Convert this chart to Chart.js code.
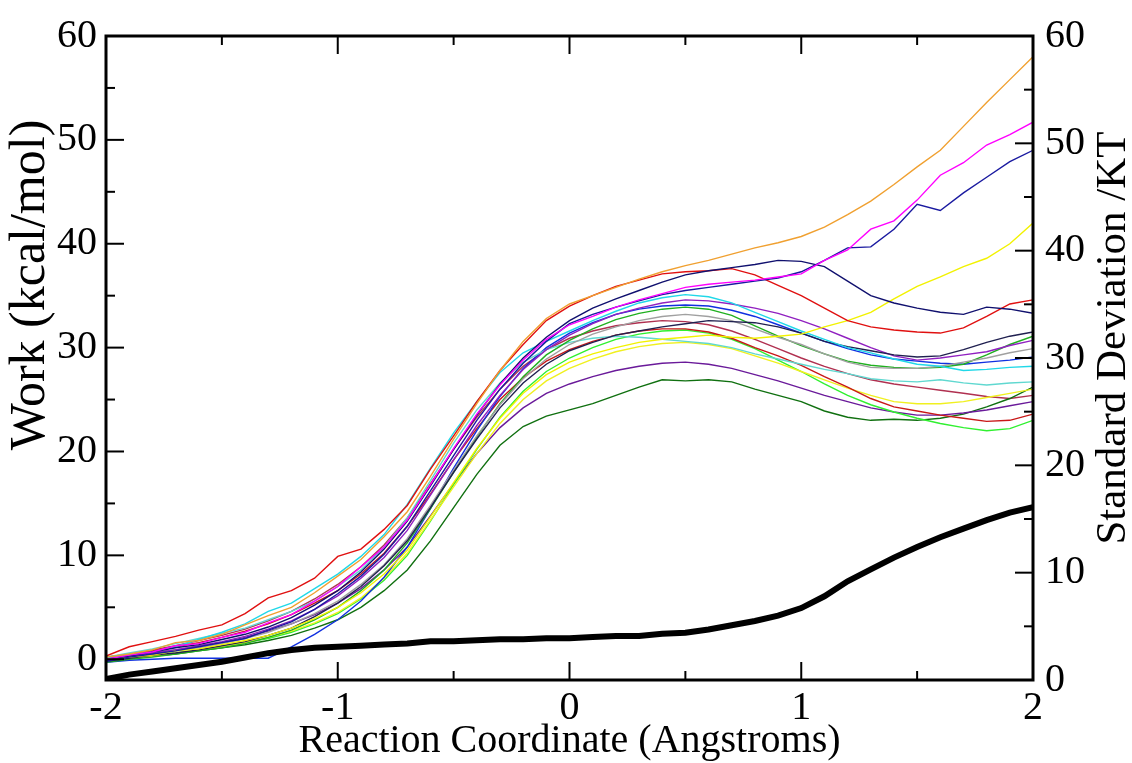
<!DOCTYPE html>
<html lang="en">
<head>
<meta charset="UTF-8">
<title>Work vs Reaction Coordinate</title>
<style>
    body { margin: 0; background: #fff; }
    #chart { display: block; }
</style>
<script src="https://cdn.jsdelivr.net/npm/chart.js"></script>
</head>
<body>
<canvas id="chart" width="1132" height="763"></canvas>
<script>
    // Reaction coordinate (Angstroms)
    const xs = [-2.0, -1.9, -1.8, -1.7, -1.6, -1.5, -1.4, -1.3, -1.2, -1.1, -1.0, -0.9, -0.8, -0.7, -0.6, -0.5, -0.4, -0.3, -0.2, -0.1,
        0.0, 0.1, 0.2, 0.3, 0.4, 0.5, 0.6, 0.7, 0.8, 0.9, 1.0, 1.1, 1.2, 1.3, 1.4, 1.5, 1.6, 1.7, 1.8, 1.9, 2.0];

    // Work curves (kcal/mol), left axis
    const workOrange = [0.2, 0.5, 0.9, 1.6, 1.8, 2.4, 3.3, 4.2, 5.0, 6.4, 8.0, 9.6, 11.8, 14.2, 17.6, 21.2, 24.6, 27.8, 30.6, 32.8, 34.2, 35.0, 35.8, 36.6, 37.3, 37.9, 38.4, 39.0, 39.6, 40.1, 40.7, 41.6, 42.8, 44.1, 45.7, 47.4, 49.0, 51.3, 53.6, 55.8, 58.0];
    const workMagenta = [0.0, 0.4, 0.7, 1.3, 1.5, 2.1, 2.6, 3.5, 4.3, 5.6, 7.0, 8.9, 10.8, 13.4, 16.8, 20.3, 23.6, 26.4, 28.8, 30.8, 32.2, 33.0, 33.9, 34.6, 35.2, 35.8, 36.1, 36.3, 36.5, 36.8, 37.1, 38.4, 39.4, 41.4, 42.2, 44.2, 46.6, 47.8, 49.5, 50.5, 51.7];
    const workBlueDark = [-0.2, 0.2, 0.5, 0.8, 1.2, 1.6, 2.0, 2.8, 3.6, 4.8, 6.3, 8.0, 10.1, 12.8, 16.2, 19.6, 23.0, 26.0, 28.5, 30.6, 32.3, 33.2, 33.9, 34.5, 35.1, 35.5, 35.8, 36.1, 36.4, 36.7, 37.3, 38.4, 39.6, 39.7, 41.4, 43.8, 43.2, 44.9, 46.4, 47.9, 49.0];
    const workNavy = [0.0, 0.3, 0.7, 1.1, 1.4, 1.9, 2.4, 3.1, 4.0, 5.2, 6.6, 8.4, 10.6, 13.3, 16.7, 20.2, 23.5, 26.5, 29.0, 31.0, 32.6, 33.8, 34.7, 35.5, 36.3, 37.0, 37.4, 37.7, 38.0, 38.4, 38.3, 37.8, 36.4, 35.0, 34.3, 33.8, 33.4, 33.2, 33.9, 33.7, 33.3];
    const workRed = [0.3, 1.2, 1.7, 2.2, 2.8, 3.3, 4.4, 5.9, 6.6, 7.8, 9.9, 10.6, 12.5, 14.8, 18.3, 21.5, 24.8, 27.8, 30.3, 32.6, 34.0, 35.0, 35.9, 36.5, 37.1, 37.3, 37.4, 37.6, 37.0, 36.0, 35.0, 33.8, 32.6, 32.0, 31.7, 31.5, 31.4, 31.9, 33.0, 34.2, 34.6];
    const workYellowUp = [0.0, 0.2, 0.4, 0.8, 1.0, 1.4, 1.8, 2.3, 3.0, 3.9, 5.0, 6.4, 8.2, 10.5, 13.7, 17.0, 20.3, 23.2, 25.6, 27.4, 28.6, 29.4, 30.0, 30.5, 30.8, 31.0, 31.2, 31.0, 30.9, 31.1, 31.3, 32.0, 32.6, 33.4, 34.7, 35.9, 36.8, 37.8, 38.6, 40.0, 42.0];
    const workCyan = [0.1, 0.4, 0.7, 1.2, 1.9, 2.6, 3.4, 4.6, 5.4, 6.8, 8.2, 9.9, 12.0, 14.9, 18.4, 21.8, 24.8, 27.6, 29.5, 30.6, 31.6, 32.6, 33.5, 34.3, 34.8, 35.1, 34.9, 34.3, 33.4, 32.5, 31.6, 30.8, 30.0, 29.5, 28.9, 28.4, 28.2, 27.8, 27.9, 28.1, 28.2];
    const workIndigo = [-0.2, 0.1, 0.4, 0.6, 0.9, 1.3, 1.7, 2.3, 3.0, 4.1, 5.4, 7.0, 9.0, 11.4, 14.6, 18.0, 21.2, 24.2, 26.6, 28.4, 29.7, 30.5, 31.2, 31.6, 32.0, 32.3, 32.6, 32.5, 32.4, 32.0, 31.4, 30.6, 30.1, 29.7, 29.3, 29.1, 29.2, 29.8, 30.5, 31.1, 31.5];
    const workViolet = [0.0, 0.3, 0.6, 0.9, 1.3, 1.7, 2.2, 2.9, 3.7, 4.8, 6.1, 7.8, 9.8, 12.4, 15.8, 19.2, 22.5, 25.4, 27.9, 29.8, 31.2, 32.3, 33.2, 33.8, 34.3, 34.6, 34.5, 34.2, 33.8, 33.3, 32.6, 31.8, 30.9, 30.0, 29.2, 28.8, 29.0, 29.3, 29.6, 30.2, 30.7];
    const workGrey = [0.1, 0.3, 0.5, 0.8, 1.1, 1.5, 2.0, 2.6, 3.4, 4.4, 5.6, 7.2, 9.1, 11.6, 14.8, 18.2, 21.5, 24.5, 27.0, 28.9, 30.3, 31.3, 32.0, 32.6, 33.0, 33.2, 33.0, 32.6, 31.8, 31.0, 30.3, 29.4, 28.6, 28.1, 28.0, 28.0, 28.2, 28.6, 29.0, 29.5, 29.9];
    const workGreen = [-0.3, 0.0, 0.2, 0.5, 0.8, 1.1, 1.5, 2.1, 2.8, 3.8, 5.0, 6.6, 8.6, 11.2, 14.5, 18.0, 21.4, 24.6, 27.2, 29.3, 30.7, 31.8, 32.7, 33.3, 33.7, 33.9, 33.7, 33.1, 32.1, 31.1, 30.2, 29.4, 28.7, 28.3, 28.1, 28.0, 28.1, 28.4, 29.3, 30.3, 31.1];
    const workTurquoise = [0.2, 0.6, 1.0, 1.5, 2.0, 2.5, 3.0, 3.8, 4.6, 5.6, 7.0, 8.6, 10.8, 13.6, 17.2, 20.8, 24.0, 26.6, 28.6, 29.8, 30.5, 30.9, 31.1, 31.0, 30.8, 30.6, 30.4, 30.0, 29.4, 28.9, 28.4, 27.9, 27.5, 27.0, 26.8, 26.7, 26.9, 26.6, 26.4, 26.6, 26.7];
    const workBlue = [-0.3, -0.1, 0.0, 0.1, 0.1, 0.1, 0.1, 0.1, 1.2, 2.4, 3.8, 5.6, 7.9, 10.8, 14.5, 18.4, 22.0, 25.3, 28.0, 30.0, 31.4, 32.4, 33.2, 33.7, 34.0, 34.1, 34.0, 33.6, 33.0, 32.2, 31.4, 30.6, 29.9, 29.3, 28.9, 28.7, 28.5, 28.4, 28.6, 28.8, 29.1];
    const workRedLow = [0.2, 0.4, 0.8, 1.2, 1.6, 2.1, 2.7, 3.4, 4.3, 5.4, 6.6, 8.2, 10.2, 12.8, 15.9, 19.2, 22.2, 25.0, 27.1, 28.7, 29.8, 30.6, 31.2, 31.6, 31.8, 31.8, 31.5, 30.9, 30.0, 29.2, 28.3, 27.2, 26.2, 25.1, 24.3, 23.9, 23.5, 23.2, 22.9, 23.0, 23.6];
    const workYellowLow = [-0.2, 0.1, 0.3, 0.6, 0.9, 1.2, 1.6, 2.1, 2.7, 3.5, 4.5, 5.9, 7.8, 10.2, 13.4, 16.6, 19.8, 22.7, 25.0, 26.8, 28.0, 28.9, 29.6, 30.1, 30.4, 30.5, 30.3, 29.9, 29.2, 28.5, 27.7, 26.9, 26.1, 25.4, 24.8, 24.6, 24.6, 24.8, 25.2, 25.6, 26.0];
    const workLime = [0.0, 0.2, 0.4, 0.6, 0.9, 1.2, 1.6, 2.0, 2.6, 3.4, 4.4, 5.8, 7.6, 10.0, 13.3, 16.8, 20.2, 23.3, 25.8, 27.7, 29.0, 30.0, 30.8, 31.3, 31.6, 31.7, 31.4, 30.8, 29.9, 28.8, 27.7, 26.5, 25.4, 24.5, 23.8, 23.2, 22.7, 22.3, 22.0, 22.2, 23.0];
    const workPurple = [0.1, 0.3, 0.6, 0.9, 1.2, 1.6, 2.1, 2.7, 3.4, 4.3, 5.4, 6.8, 8.6, 10.8, 13.8, 16.9, 19.8, 22.3, 24.2, 25.6, 26.5, 27.2, 27.8, 28.2, 28.5, 28.6, 28.4, 28.0, 27.4, 26.8, 26.1, 25.4, 24.8, 24.2, 23.8, 23.5, 23.5, 23.7, 24.0, 24.4, 24.8];
    const workGreen4 = [-0.1, 0.1, 0.3, 0.5, 0.8, 1.1, 1.4, 1.8, 2.3, 3.0, 3.8, 5.0, 6.6, 8.6, 11.4, 14.6, 17.8, 20.6, 22.4, 23.4, 24.0, 24.6, 25.4, 26.2, 26.9, 26.8, 26.9, 26.7, 26.0, 25.4, 24.8, 23.9, 23.3, 23.0, 23.1, 23.0, 23.2, 23.6, 24.3, 25.1, 26.2];
    const workMaroon = [0.2, 0.5, 0.9, 1.3, 1.8, 2.3, 2.9, 3.7, 4.6, 5.8, 7.2, 8.9, 11.0, 13.6, 16.9, 20.2, 23.3, 26.0, 28.2, 29.8, 30.9, 31.6, 32.1, 32.4, 32.6, 32.5, 32.2, 31.6, 30.8, 29.9, 29.0, 28.2, 27.5, 26.9, 26.5, 26.2, 25.9, 25.6, 25.3, 25.1, 25.4];

    // Standard deviation /KT, right axis
    const stdDev = [0.1, 0.5, 0.8, 1.1, 1.4, 1.7, 2.1, 2.5, 2.8, 3.0, 3.1, 3.2, 3.3, 3.4, 3.6, 3.6, 3.7, 3.8, 3.8, 3.9, 3.9, 4.0, 4.1, 4.1, 4.3, 4.4, 4.7, 5.1, 5.5, 6.0, 6.7, 7.8, 9.2, 10.3, 11.4, 12.4, 13.3, 14.1, 14.9, 15.6, 16.1];

    // Tick positions for the inward tick marks
    const xMajor = [-2, -1, 0, 1, 2];
    const xMinor = [-1.5, -0.5, 0.5, 1.5];
    const yMajor = [0, 10, 20, 30, 40, 50, 60];
    const yMinor = [5, 15, 25, 35, 45, 55];

    const workSeries = [
        [workOrange, '#f0a030'],
        [workMagenta, '#ff00ff'],
        [workBlueDark, '#1a1aa0'],
        [workNavy, '#10106e'],
        [workRed, '#e01010'],
        [workYellowUp, '#f2f200'],
        [workCyan, '#20d8e8'],
        [workIndigo, '#202050'],
        [workViolet, '#9020c0'],
        [workGrey, '#a0a0a0'],
        [workGreen, '#20b020'],
        [workTurquoise, '#60d8d0'],
        [workBlue, '#1030e0'],
        [workRedLow, '#c81818'],
        [workYellowLow, '#f0f020'],
        [workLime, '#30f030'],
        [workPurple, '#6a1a9a'],
        [workGreen4, '#107010'],
        [workMaroon, '#b03050']
    ];

    const toPoints = vals => vals.map((v, i) => ({ x: xs[i], y: v }));

    const datasets = [{
        label: 'Standard Deviation',
        data: toPoints(stdDev),
        yAxisID: 'y2',
        borderColor: '#000',
        borderWidth: 6,
        pointRadius: 0
    }];
    workSeries.forEach(([vals, color]) => {
        datasets.push({
            data: toPoints(vals),
            yAxisID: 'y',
            borderColor: color,
            borderWidth: 1.4,
            pointRadius: 0
        });
    });

    const serif = '"Liberation Serif", "DejaVu Serif", serif';

    // Frame, inward ticks and the two vertical titles
    const framePlugin = {
        id: 'framePlugin',
        afterDatasetsDraw(chart) {
            const { ctx, chartArea: a, scales } = chart;
            ctx.save();
            ctx.strokeStyle = '#000';
            ctx.lineWidth = 2;
            const mark = (x1, y1, x2, y2) => {
                ctx.beginPath();
                ctx.moveTo(x1, y1);
                ctx.lineTo(x2, y2);
                ctx.stroke();
            };
            const drawX = (vals, len) => vals.forEach(v => {
                const px = scales.x.getPixelForValue(v);
                mark(px, a.bottom, px, a.bottom - len);
                mark(px, a.top, px, a.top + len);
            });
            const drawY = (vals, len) => vals.forEach(v => {
                const pl = scales.y.getPixelForValue(v);
                const pr = scales.y2.getPixelForValue(v);
                mark(a.left, pl, a.left + len, pl);
                mark(a.right, pr, a.right - len, pr);
            });
            drawX(xMajor, 18);
            drawX(xMinor, 9);
            drawY(yMajor, 18);
            drawY(yMinor, 9);

            ctx.lineWidth = 3;
            ctx.strokeRect(a.left, a.top, a.right - a.left, a.bottom - a.top);

            ctx.fillStyle = '#000';
            ctx.textAlign = 'center';
            ctx.textBaseline = 'middle';
            ctx.font = '50px ' + serif;
            ctx.translate(31, 285);
            ctx.rotate(-Math.PI / 2);
            ctx.fillText('Work (kcal/mol)', 0, 0);
            ctx.setTransform(1, 0, 0, 1, 0, 0);
            ctx.font = '43px ' + serif;
            ctx.translate(1114, 338);
            ctx.rotate(-Math.PI / 2);
            ctx.fillText('Standard Deviation /KT', 0, 0);
            ctx.restore();
        }
    };

    const tickFont = { family: serif, size: 40 };

    const config = {
        type: 'line',
        data: { datasets: datasets },
        options: {
            responsive: false,
            animation: false,
            layout: { padding: { top: 25, left: 0, right: 0, bottom: 0 } },
            elements: { line: { tension: 0 } },
            plugins: {
                legend: { display: false },
                tooltip: { enabled: false }
            },
            scales: {
                x: {
                    type: 'linear',
                    min: -2,
                    max: 2,
                    grid: { display: false, drawTicks: false },
                    border: { display: false },
                    ticks: { stepSize: 1, padding: 4, color: '#000', font: tickFont, maxRotation: 0, autoSkip: false },
                    title: {
                        display: true,
                        text: 'Reaction Coordinate (Angstroms)',
                        color: '#000',
                        font: { family: serif, size: 40, lineHeight: 1 },
                        padding: { top: 0, bottom: 2 }
                    },
                    afterFit(s) { s.height = 83; }
                },
                y: {
                    position: 'left',
                    min: -2,
                    max: 60,
                    grid: { display: false, drawTicks: false },
                    border: { display: false },
                    ticks: { stepSize: 10, includeBounds: false, padding: 9, color: '#000', font: tickFont },
                    afterBuildTicks(s) { s.ticks = s.ticks.filter(t => t.value % 10 === 0); },
                    afterFit(s) { s.width = 106; }
                },
                y2: {
                    position: 'right',
                    min: 0,
                    max: 60,
                    grid: { display: false, drawTicks: false },
                    border: { display: false },
                    ticks: { stepSize: 10, padding: 12, color: '#000', font: tickFont },
                    afterFit(s) { s.width = 99; }
                }
            }
        },
        plugins: [framePlugin]
    };

    new Chart(document.getElementById('chart').getContext('2d'), config);
</script>
</body>
</html>
